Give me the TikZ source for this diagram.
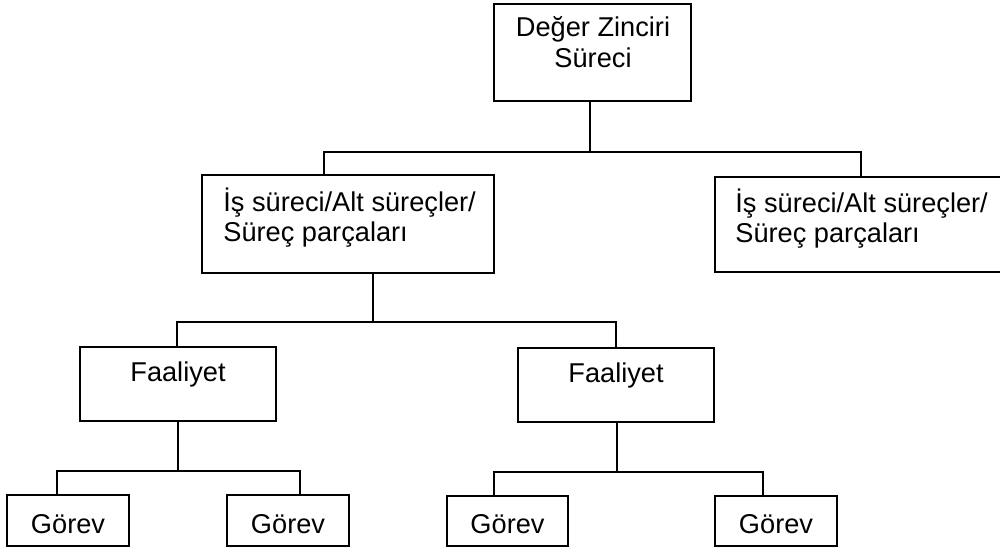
\documentclass[tikz,border=0pt]{standalone}
\usepackage{fontspec}
\setmainfont{Liberation Sans}
\begin{document}
\begin{tikzpicture}[x=0.5pt,y=-0.5pt,
  box/.style={draw,line width=0.8pt,rectangle,inner sep=0pt},
  lbl/.style={inner sep=0pt,font=\fontsize{13.6}{15}\selectfont},
  link/.style={draw,line width=0.8pt}]
\useasboundingbox (0,0) rectangle (1000,549);

% boxes (the right-hand process box runs past the page edge)
\node[box,minimum width=98.5pt,minimum height=48.5pt] (top) at (592.5,52.5) {};
\node[box,minimum width=146pt,minimum height=49pt] (midL) at (348,224) {};
\node[box,minimum width=150pt,minimum height=47.5pt] (midR) at (865,224.5) {};
\node[box,minimum width=98pt,minimum height=37pt] (faL) at (178,384) {};
\node[box,minimum width=98pt,minimum height=37pt] (faR) at (616,385) {};
\node[box,minimum width=61pt,minimum height=25.5pt] (g1) at (68,520.5) {};
\node[box,minimum width=61pt,minimum height=25.5pt] (g2) at (288,520.5) {};
\node[box,minimum width=60.5pt,minimum height=25pt] (g3) at (507.5,521) {};
\node[box,minimum width=61pt,minimum height=25pt] (g4) at (776,521) {};

% labels
\node[lbl,anchor=base] (topA) at (593,37) {Değer Zinciri};
\node[lbl,anchor=base] (topB) at (593,68) {Süreci};
\node[lbl,anchor=base west] (midLA) at (223,212) {İş süreci/Alt süreçler/};
\node[lbl,anchor=base west] (midLB) at (223,242) {Süreç parçaları};
\node[lbl,anchor=base west] (midRA) at (735,213) {İş süreci/Alt süreçler/};
\node[lbl,anchor=base west] (midRB) at (735,243) {Süreç parçaları};
\node[lbl,anchor=base] (faLt) at (178,382) {Faaliyet};
\node[lbl,anchor=base] (faRt) at (616,383) {Faaliyet};
\node[lbl,anchor=base] (g1t) at (68,533) {Görev};
\node[lbl,anchor=base] (g2t) at (288,533) {Görev};
\node[lbl,anchor=base] (g3t) at (507.5,533) {Görev};
\node[lbl,anchor=base] (g4t) at (776,533) {Görev};

% junction points of the connector buses
\coordinate (j1) at (590,152);
\coordinate (b1L) at (324,152);
\coordinate (b1R) at (861,152);
\coordinate (j2) at (373,322);
\coordinate (b2L) at (177,322);
\coordinate (b2R) at (616,322);
\coordinate (j3) at (178,471);
\coordinate (b3L) at (57,471);
\coordinate (b3R) at (300,471);
\coordinate (j4) at (617,472);
\coordinate (b4L) at (494,472);
\coordinate (b4R) at (763,472);

% connectors
\path[link] (top.south -| j1) -- (j1);
\path[link] (midL.north -| b1L) -- (b1L) -- (b1R) -- (midR.north -| b1R);
\path[link] (midL.south -| j2) -- (j2);
\path[link] (faL.north -| b2L) -- (b2L) -- (b2R) -- (faR.north -| b2R);
\path[link] (faL.south -| j3) -- (j3);
\path[link] (g1.north -| b3L) -- (b3L) -- (b3R) -- (g2.north -| b3R);
\path[link] (faR.south -| j4) -- (j4);
\path[link] (g3.north -| b4L) -- (b4L) -- (b4R) -- (g4.north -| b4R);
\end{tikzpicture}
\end{document}
